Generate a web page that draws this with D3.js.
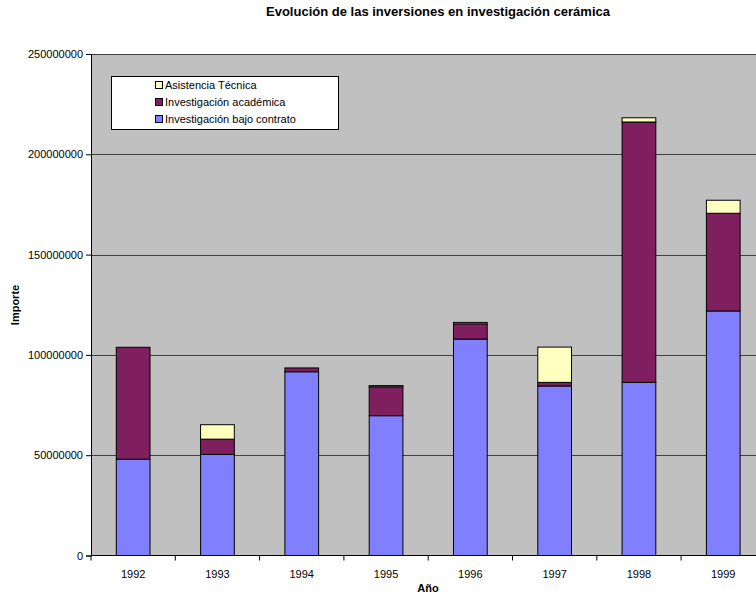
<!DOCTYPE html>
<html><head><meta charset="utf-8">
<script src="https://cdn.jsdelivr.net/npm/d3@7"></script>
<style>body{margin:0;background:#fff}svg{display:block}text{font-family:"Liberation Sans",Arial,sans-serif}</style>
</head><body>
<script>
const years = ["1992","1993","1994","1995","1996","1997","1998","1999"];
const bajoContrato = [48000000, 50400000, 91600000, 69700000, 107900000, 84500000, 86300000, 121900000];
const academica = [55800000, 7600000, 1900000, 14400000, 7600000, 1800000, 129800000, 48700000];
const asistencia = [0, 7200000, 0, 600000, 700000, 17600000, 2100000, 6500000];
const seriesNames = ["Investigación bajo contrato", "Investigación académica", "Asistencia Técnica"];
const seriesColors = ["#8080FF", "#7F1F5F", "#FFFFC0"];
const yTicks = [0, 50000000, 100000000, 150000000, 200000000, 250000000];

const W = 756, H = 595;
const svg = d3.select("body").append("svg").attr("width", W).attr("height", H);
const L = 91, R = 765.4, T = 54, B = 555.5;

const x = d3.scaleBand().domain(years).range([L, R]).paddingInner(0.6).paddingOuter(0.3);
const y = d3.scaleLinear().domain([0, 250000000]).range([B, T]);

svg.append("rect").attr("x", L).attr("y", T).attr("width", R - L).attr("height", B - T).attr("fill", "#C0C0C0");

// gridlines
svg.append("g").selectAll("line").data(yTicks.slice(1)).join("line")
  .attr("x1", L).attr("x2", R).attr("y1", d => Math.round(y(d)) + 0.5).attr("y2", d => Math.round(y(d)) + 0.5)
  .attr("stroke", "#404040").attr("stroke-width", 1);

const rows = years.map((yr, i) => ({year: yr, s0: bajoContrato[i], s1: academica[i], s2: asistencia[i]}));
const stack = d3.stack().keys(["s0", "s1", "s2"])(rows);

svg.append("g").selectAll("g").data(stack).join("g")
  .attr("fill", (d, i) => seriesColors[i])
  .selectAll("rect").data(d => d.filter(p => p[1] - p[0] > 0)).join("rect")
  .attr("x", d => x(d.data.year)).attr("width", x.bandwidth())
  .attr("y", d => y(d[1])).attr("height", d => y(d[0]) - y(d[1]))
  .attr("stroke", "#000").attr("stroke-width", 1);

// y axis
const yAxis = d3.axisLeft(y).tickValues(yTicks).tickFormat(d3.format("d")).tickSize(5).tickPadding(3);
const ya = svg.append("g").attr("transform", `translate(${L},0)`).call(yAxis);
ya.select(".domain").attr("stroke", "#000");
ya.selectAll("text").attr("font-size", 11).attr("fill", "#000").attr("font-family", "Liberation Sans, Arial, sans-serif");

// x axis
const xa = svg.append("g").attr("transform", `translate(0,${B})`);
xa.append("line").attr("x1", L).attr("x2", R).attr("y1", 0).attr("y2", 0).attr("stroke", "#000");
xa.selectAll("line.tk").data(years.map((yr, i) => L + i * x.step())).join("line").attr("class", "tk")
  .attr("x1", d => d).attr("x2", d => d).attr("y1", 0).attr("y2", 5).attr("stroke", "#000");
xa.selectAll("text").data(years).join("text")
  .attr("x", d => x(d) + x.bandwidth() / 2).attr("y", 22)
  .attr("text-anchor", "middle").attr("font-size", 11).text(d => d);

// titles
svg.append("text").attr("x", 438).attr("y", 16).attr("text-anchor", "middle")
  .attr("font-size", 13).attr("font-weight", "bold").text("Evolución de las inversiones en investigación cerámica");
svg.append("text").attr("x", 428).attr("y", 592).attr("text-anchor", "middle")
  .attr("font-size", 11).attr("font-weight", "bold").text("Año");
svg.append("text").attr("transform", "translate(19,305) rotate(-90)").attr("text-anchor", "middle")
  .attr("font-size", 11).attr("font-weight", "bold").text("Importe");

// legend
const lg = svg.append("g");
lg.append("rect").attr("x", 111.5).attr("y", 76.5).attr("width", 227).attr("height", 53)
  .attr("fill", "#fff").attr("stroke", "#000");
const legendOrder = [2, 1, 0];
legendOrder.forEach((si, k) => {
  const cy = 85 + k * 17;
  lg.append("rect").attr("x", 155.5).attr("y", cy - 3.5).attr("width", 7).attr("height", 7)
    .attr("fill", seriesColors[si]).attr("stroke", "#000");
  lg.append("text").attr("x", 165).attr("y", cy + 4).attr("font-size", 11).text(seriesNames[si]);
});
</script>
</body></html>
